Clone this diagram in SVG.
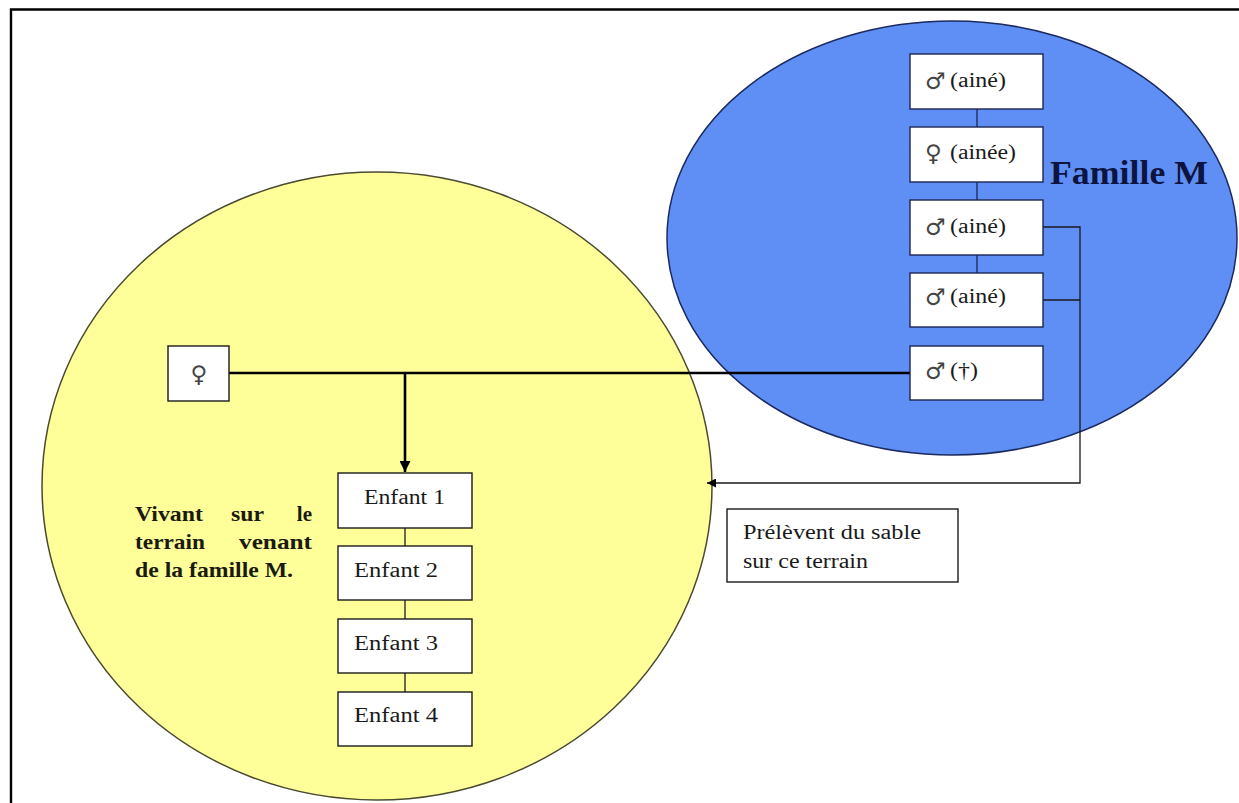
<svg xmlns="http://www.w3.org/2000/svg" width="1239" height="803" viewBox="0 0 1239 803">
  <defs>
    <marker id="arrow" viewBox="0 0 10 10" refX="10" refY="5" markerWidth="10" markerHeight="9" markerUnits="userSpaceOnUse" orient="auto">
      <path d="M0,0 L10,5 L0,10 Z" fill="#000"/>
    </marker>
    <marker id="arrowBig" viewBox="0 0 10 10" refX="10" refY="5" markerWidth="11" markerHeight="11" markerUnits="userSpaceOnUse" orient="auto">
      <path d="M0,0 L10,5 L0,10 Z" fill="#000"/>
    </marker>
  </defs>
  <style>
    .box { fill: #ffffff; stroke: #1a1a1a; stroke-width: 1.4; }
    .bbox { fill: #ffffff; stroke: #1b2650; stroke-width: 1.4; }
    .t { font-family: "Liberation Serif", "DejaVu Serif", serif; font-size: 20px; fill: #1a1a1a; }
    .sym { font-family: "DejaVu Sans", "Noto Sans", sans-serif; font-size: 23px; fill: #444444; }
    .bold { font-family: "Liberation Serif", "DejaVu Serif", serif; font-size: 21px; font-weight: bold; fill: #1a1a10; }
    .thin { fill: none; stroke: #1b2650; stroke-width: 1.3; }
    .thinblk { fill: none; stroke: #1a1a1a; stroke-width: 1.3; }
    .thick { fill: none; stroke: #000; stroke-width: 2.6; }
  </style>

  <rect width="1239" height="803" fill="#ffffff"/>
  <!-- page frame -->
  <path d="M11,803 V9.5 H1239" fill="none" stroke="#000" stroke-width="2.4"/>

  <!-- family territories -->
  <g id="terrain">
    <ellipse cx="377" cy="486" rx="335" ry="314" fill="#ffff99" stroke="#4a4a30" stroke-width="1.5"/>
  </g>
  <g id="famille-m">
    <ellipse cx="952" cy="238" rx="285" ry="217" fill="#5f8ff5" stroke="#1b2a5e" stroke-width="1.5"/>
    <text x="1050" y="184" font-family="Liberation Serif, DejaVu Serif, serif" font-size="33" font-weight="bold" fill="#0d1440" textLength="158" lengthAdjust="spacingAndGlyphs">Famille M</text>
  </g>

  <!-- connectors -->
  <g id="connectors">
    <line class="thin" x1="977" y1="109" x2="977" y2="127"/>
    <line class="thin" x1="977" y1="182" x2="977" y2="200"/>
    <line class="thin" x1="977" y1="255" x2="977" y2="273"/>
    <path class="thinblk" d="M1043,227 H1080 V483 H707" marker-end="url(#arrow)"/>
    <line class="thinblk" x1="1043" y1="300" x2="1080" y2="300"/>
    <line class="thick" x1="229" y1="373" x2="910" y2="373"/>
    <line class="thick" x1="405" y1="373" x2="405" y2="472" marker-end="url(#arrowBig)"/>
    <line class="thinblk" x1="405" y1="528" x2="405" y2="546"/>
    <line class="thinblk" x1="405" y1="600" x2="405" y2="619"/>
    <line class="thinblk" x1="405" y1="673" x2="405" y2="692"/>
  </g>

  <!-- family M members -->
  <g id="m1">
    <rect class="bbox" x="910" y="54" width="133" height="55"/>
    <text class="sym" x="925" y="89">♂</text>
    <text class="t" x="950" y="87" textLength="56" lengthAdjust="spacingAndGlyphs">(ainé)</text>
  </g>
  <g id="m2">
    <rect class="bbox" x="910" y="127" width="133" height="55"/>
    <text class="sym" x="925" y="161">♀</text>
    <text class="t" x="950" y="159" textLength="66" lengthAdjust="spacingAndGlyphs">(ainée)</text>
  </g>
  <g id="m3">
    <rect class="bbox" x="910" y="200" width="133" height="55"/>
    <text class="sym" x="925" y="235">♂</text>
    <text class="t" x="950" y="233" textLength="56" lengthAdjust="spacingAndGlyphs">(ainé)</text>
  </g>
  <g id="m4">
    <rect class="bbox" x="910" y="273" width="133" height="54"/>
    <text class="sym" x="925" y="305">♂</text>
    <text class="t" x="950" y="303" textLength="56" lengthAdjust="spacingAndGlyphs">(ainé)</text>
  </g>
  <g id="m5">
    <rect class="bbox" x="910" y="346" width="133" height="54"/>
    <text class="sym" x="925" y="379">♂</text>
    <text class="t" x="950" y="377" textLength="28" lengthAdjust="spacingAndGlyphs">(†)</text>
  </g>

  <!-- spouse -->
  <g id="mere">
    <rect class="box" x="168" y="346" width="61" height="55"/>
    <text class="sym" x="199" y="382" text-anchor="middle" font-size="26">♀</text>
  </g>

  <!-- children -->
  <g id="enfant1">
    <rect class="box" x="338" y="473" width="134" height="55"/>
    <text class="t" x="364" y="504" textLength="81" lengthAdjust="spacingAndGlyphs">Enfant 1</text>
  </g>
  <g id="enfant2">
    <rect class="box" x="338" y="546" width="134" height="54"/>
    <text class="t" x="354" y="577" textLength="84" lengthAdjust="spacingAndGlyphs">Enfant 2</text>
  </g>
  <g id="enfant3">
    <rect class="box" x="338" y="619" width="134" height="54"/>
    <text class="t" x="354" y="650" textLength="84" lengthAdjust="spacingAndGlyphs">Enfant 3</text>
  </g>
  <g id="enfant4">
    <rect class="box" x="338" y="692" width="134" height="54"/>
    <text class="t" x="354" y="722" textLength="84" lengthAdjust="spacingAndGlyphs">Enfant 4</text>
  </g>

  <!-- justified caption inside the territory -->
  <g id="vivant">
    <text class="bold" x="135" y="521" textLength="68" lengthAdjust="spacingAndGlyphs">Vivant</text>
    <text class="bold" x="231" y="521" textLength="33" lengthAdjust="spacingAndGlyphs">sur</text>
    <text class="bold" x="312" y="521" text-anchor="end">le</text>
    <text class="bold" x="135" y="549" textLength="70" lengthAdjust="spacingAndGlyphs">terrain</text>
    <text class="bold" x="239" y="549" textLength="73" lengthAdjust="spacingAndGlyphs">venant</text>
    <text class="bold" x="135" y="577" textLength="158" lengthAdjust="spacingAndGlyphs">de la famille M.</text>
  </g>

  <!-- note box -->
  <g id="note">
    <rect class="box" x="727" y="509" width="231" height="73"/>
    <text class="t" x="743" y="539" textLength="178" lengthAdjust="spacingAndGlyphs">Prélèvent du sable</text>
    <text class="t" x="743" y="568" textLength="125" lengthAdjust="spacingAndGlyphs">sur ce terrain</text>
  </g>
</svg>
